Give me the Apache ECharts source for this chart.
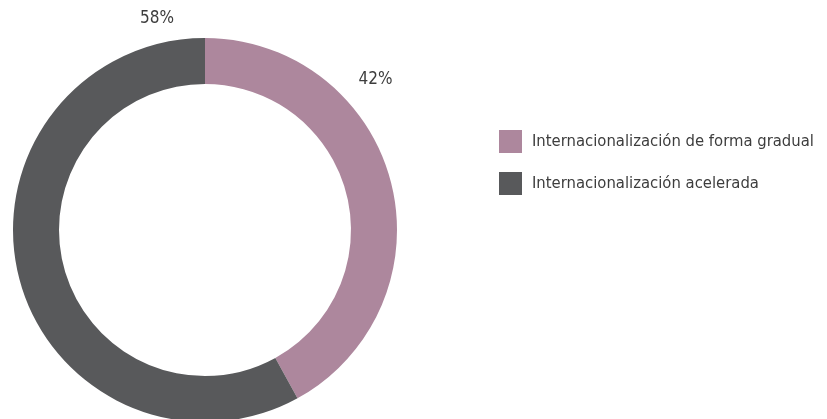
<!DOCTYPE html>
<html><head><meta charset="utf-8">
<script src="https://cdn.jsdelivr.net/npm/echarts@6/dist/echarts.min.js"></script>
<style>html,body{margin:0;padding:0;background:#fff;}#c{width:827px;height:419px;}</style>
</head><body><div id="c"></div>
<script>
var categories = ['Internacionalización de forma gradual', 'Internacionalización acelerada'];
var values = [42, 58];
var colors = ['#ad879d', '#58595b'];
var labelPositions = [[375.5, 79.5], [157, 19]];
var FONT = '"DejaVu Sans Condensed", sans-serif';

var chart = echarts.init(document.getElementById('c'), null, {renderer: 'canvas'});
chart.setOption({
  animation: false,
  backgroundColor: '#ffffff',
  legend: {
    orient: 'vertical', left: 499, top: 130, padding: 0,
    itemWidth: 23, itemHeight: 23, itemGap: 19,
    icon: 'rect',
    textStyle: {fontFamily: FONT, fontSize: 16.5, color: '#3d3d3d', padding: [0, 0, 0, 5]},
    data: categories
  },
  series: [{
    type: 'pie',
    center: [205, 230],
    radius: [146, 192],
    startAngle: 90,
    clockwise: true,
    silent: true,
    label: {
      show: true, position: 'inside',
      formatter: function (p) { return p.value + '%'; },
      fontFamily: FONT, fontSize: 17, color: '#3d3d3d'
    },
    labelLine: {show: false},
    labelLayout: function (params) {
      var pos = labelPositions[params.dataIndex];
      return {x: pos[0], y: pos[1], align: 'center', verticalAlign: 'middle'};
    },
    data: categories.map(function (c, i) {
      return {name: c, value: values[i], itemStyle: {color: colors[i]}};
    })
  }]
});
</script></body></html>
